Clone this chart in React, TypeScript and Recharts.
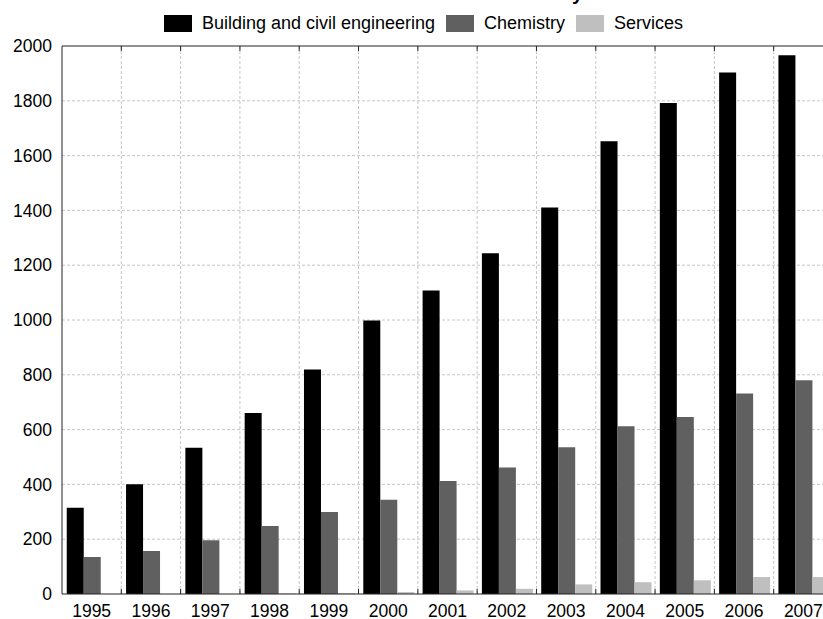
import React from 'react';
import { BarChart, Bar, XAxis, YAxis, CartesianGrid, Legend, ReferenceLine, Customized } from 'recharts';

const years = ['1995', '1996', '1997', '1998', '1999', '2000', '2001', '2002', '2003', '2004', '2005', '2006', '2007'];
const building = [315, 401, 534, 661, 819, 998, 1108, 1244, 1411, 1652, 1792, 1903, 1966];
const chemistry = [135, 157, 196, 248, 299, 344, 412, 462, 536, 612, 646, 732, 780];
const services = [0, 0, 0, 2, 3, 7, 13, 19, 35, 43, 50, 62, 62];
const yTicks = [0, 200, 400, 600, 800, 1000, 1200, 1400, 1600, 1800, 2000];
const seriesNames = ['Building and civil engineering', 'Chemistry', 'Services'];
const seriesColors = ['#000000', '#606060', '#bfbfbf'];
const titleText = 'Patents in Industry';

const data = years.map((year, i) => ({
  year,
  building: building[i],
  chemistry: chemistry[i],
  services: services[i],
}));

const FONT = '"Liberation Sans", Arial, sans-serif';

const renderLegend = (props: any) => {
  const payload = props.payload || [];
  return (
    <div style={{ display: 'flex', justifyContent: 'center', alignItems: 'center', gap: 11, fontFamily: FONT, fontSize: 18, lineHeight: '20px', color: '#000' }}>
      {payload.map((p: any, i: number) => (
        <div key={i} style={{ display: 'flex', alignItems: 'center' }}>
          <span style={{ display: 'inline-block', width: 28, height: 17, background: p.color, marginRight: 10 }} />
          <span>{p.value}</span>
        </div>
      ))}
    </div>
  );
};

const Title = () => (
  <text x={583} y={0} textAnchor="end" fontSize={20} fontWeight="bold" fill="#000" fontFamily={FONT}>
    {titleText}
  </text>
);

export default function App() {
  const n = years.length;
  const boundaries = (p: any) => {
    const off = p.offset;
    return years.slice(1).map((_, i) => off.left + ((i + 1) * off.width) / n);
  };
  return (
    <div style={{ position: 'absolute', left: 0, top: 0, width: 823, height: 619, overflow: 'hidden', background: '#fff', fontFamily: FONT }}>
      <BarChart
        width={840}
        height={619}
        data={data}
        margin={{ top: 46, right: 7, left: 0, bottom: 0 }}
        barGap={0}
        barCategoryGap="8%"
      >
        <CartesianGrid
          stroke="#c6c6c6"
          strokeDasharray="3 2"
          horizontalCoordinatesGenerator={(p: any) => {
            const off = p.offset;
            return yTicks.slice(1, -1).map((t) => off.top + off.height * (1 - t / 2000));
          }}
          verticalCoordinatesGenerator={boundaries}
        />
        <CartesianGrid
          horizontal={false}
          stroke="#222"
          strokeDasharray="5 538 5"
          verticalCoordinatesGenerator={boundaries}
        />
        <XAxis
          dataKey="year"
          interval={0}
          tickLine={false}
          tickSize={0}
          tickMargin={11}
          height={25}
          axisLine={{ stroke: '#222' }}
          tick={{ fill: '#000', fontSize: 17.5, fontFamily: FONT }}
        />
        <YAxis
          domain={[0, 2000]}
          ticks={yTicks}
          width={62}
          tickLine={false}
          tickSize={0}
          tickMargin={10}
          axisLine={{ stroke: '#222' }}
          tick={{ fill: '#000', fontSize: 17.5, fontFamily: FONT }}
        />
        <Legend
          verticalAlign="middle"
          align="center"
          layout="horizontal"
          content={renderLegend}
          wrapperStyle={{ top: 13, left: 0, width: 847 }}
        />
        <Bar dataKey="building" name={seriesNames[0]} fill={seriesColors[0]} isAnimationActive={false} />
        <Bar dataKey="chemistry" name={seriesNames[1]} fill={seriesColors[1]} isAnimationActive={false} />
        <Bar dataKey="services" name={seriesNames[2]} fill={seriesColors[2]} isAnimationActive={false} />
        <ReferenceLine y={2000} stroke="#222" />
        <Customized component={Title} />
      </BarChart>
    </div>
  );
}
